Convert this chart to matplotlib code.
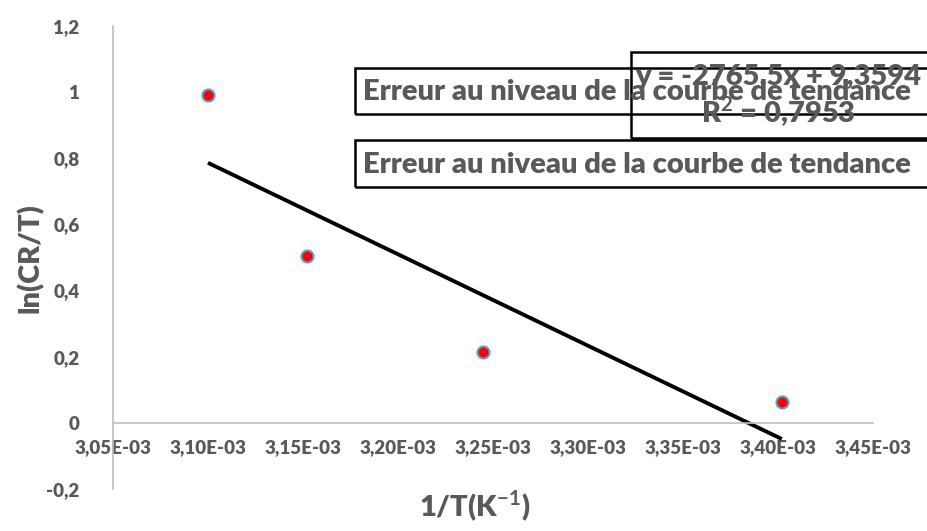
import matplotlib
matplotlib.use("Agg")
import matplotlib.pyplot as plt
from matplotlib.patches import Rectangle
import numpy as np

# Data: inverse temperature vs ln(CR/T)
inv_T = [3.10e-3, 3.152e-3, 3.245e-3, 3.402e-3]
ln_cr_t = [0.99, 0.505, 0.213, 0.062]

# Linear trendline as reported
slope = -2765.5
intercept = 9.3594
r2 = 0.7953

x_ticks = [3.05e-3, 3.10e-3, 3.15e-3, 3.20e-3, 3.25e-3, 3.30e-3, 3.35e-3, 3.40e-3, 3.45e-3]
y_ticks = [-0.2, 0, 0.2, 0.4, 0.6, 0.8, 1, 1.2]

GREY = "#595959"
plt.rcParams["font.family"] = ["Lato", "DejaVu Sans"]
plt.rcParams["mathtext.fontset"] = "custom"
plt.rcParams["mathtext.rm"] = "Lato"
plt.rcParams["mathtext.bf"] = "Lato:bold"

W, H = 927, 531
fig = plt.figure(figsize=(W / 100, H / 100), dpi=100)


def fx(px):
    return px / W


def fy(py):
    return 1 - py / H


ax = fig.add_axes([fx(113), fy(489), fx(873) - fx(113), fy(26) - fy(489)])
ax.set_xlim(3.05e-3, 3.45e-3)
ax.set_ylim(-0.2, 1.2)

for s in ("top", "right"):
    ax.spines[s].set_visible(False)
ax.spines["bottom"].set_position(("data", 0))
ax.spines["left"].set_color("#BFBFBF")
ax.spines["bottom"].set_color("#BFBFBF")
ax.spines["left"].set_linewidth(1.2)
ax.spines["bottom"].set_linewidth(1.2)

ax.set_xticks(x_ticks)
ax.set_xticklabels([f"{v:.2E}".replace(".", ",") for v in x_ticks])
ax.set_yticks(y_ticks)
ax.set_yticklabels([("%g" % v).replace(".", ",") for v in y_ticks])
ax.tick_params(length=0, colors=GREY, labelsize=13.5)
for lab in ax.get_xticklabels() + ax.get_yticklabels():
    lab.set_fontweight("heavy")
ax.tick_params(axis="x", pad=12)
ax.tick_params(axis="y", pad=24)

# trendline over the data range
xl = np.array([min(inv_T), max(inv_T)])
ax.plot(xl, slope * xl + intercept, color="black", lw=2.8, solid_capstyle="butt", zorder=2)

ax.scatter(inv_T, ln_cr_t, s=75, facecolor="#FF0000", edgecolor="#5B9BD5", linewidth=1.5, zorder=3)

fig.text(fx(30), fy(258), "ln(CR/T)", rotation=90, ha="center", va="center",
         fontsize=21, fontweight="heavy", color=GREY)
fig.text(fx(475), fy(507), "1/T(K$^{\\mathbf{-1}}$)", ha="center", va="center",
         fontsize=21, fontweight="heavy", color=GREY)

# annotation boxes
def box(x0, y0, x1, y1):
    fig.patches.append(Rectangle((fx(x0), fy(y1)), fx(x1) - fx(x0), fy(y0) - fy(y1),
                                 transform=fig.transFigure, fill=False,
                                 edgecolor="black", lw=1.8, clip_on=False))

box(631, 52, 935, 138)
box(355, 68, 935, 114)
box(355, 140, 935, 187)

FS = 21
msg = "Erreur au niveau de la courbe de tendance"
fig.text(fx(363), fy(92), msg, ha="left", va="center", fontsize=FS,
         fontweight="heavy", color=GREY)
fig.text(fx(363), fy(165), msg, ha="left", va="center", fontsize=FS,
         fontweight="heavy", color=GREY)
eq = f"y = {slope:g}x + {intercept:g}".replace(".", ",")
fig.text(fx(778), fy(77), eq, ha="center", va="center", fontsize=FS,
         fontweight="heavy", color=GREY)
fig.text(fx(778), fy(112), ("R$^{\\mathbf{2}}$ = %g" % r2).replace(".", ","),
         ha="center", va="center", fontsize=FS, fontweight="heavy", color=GREY)

fig.savefig("out.png", dpi=100)
